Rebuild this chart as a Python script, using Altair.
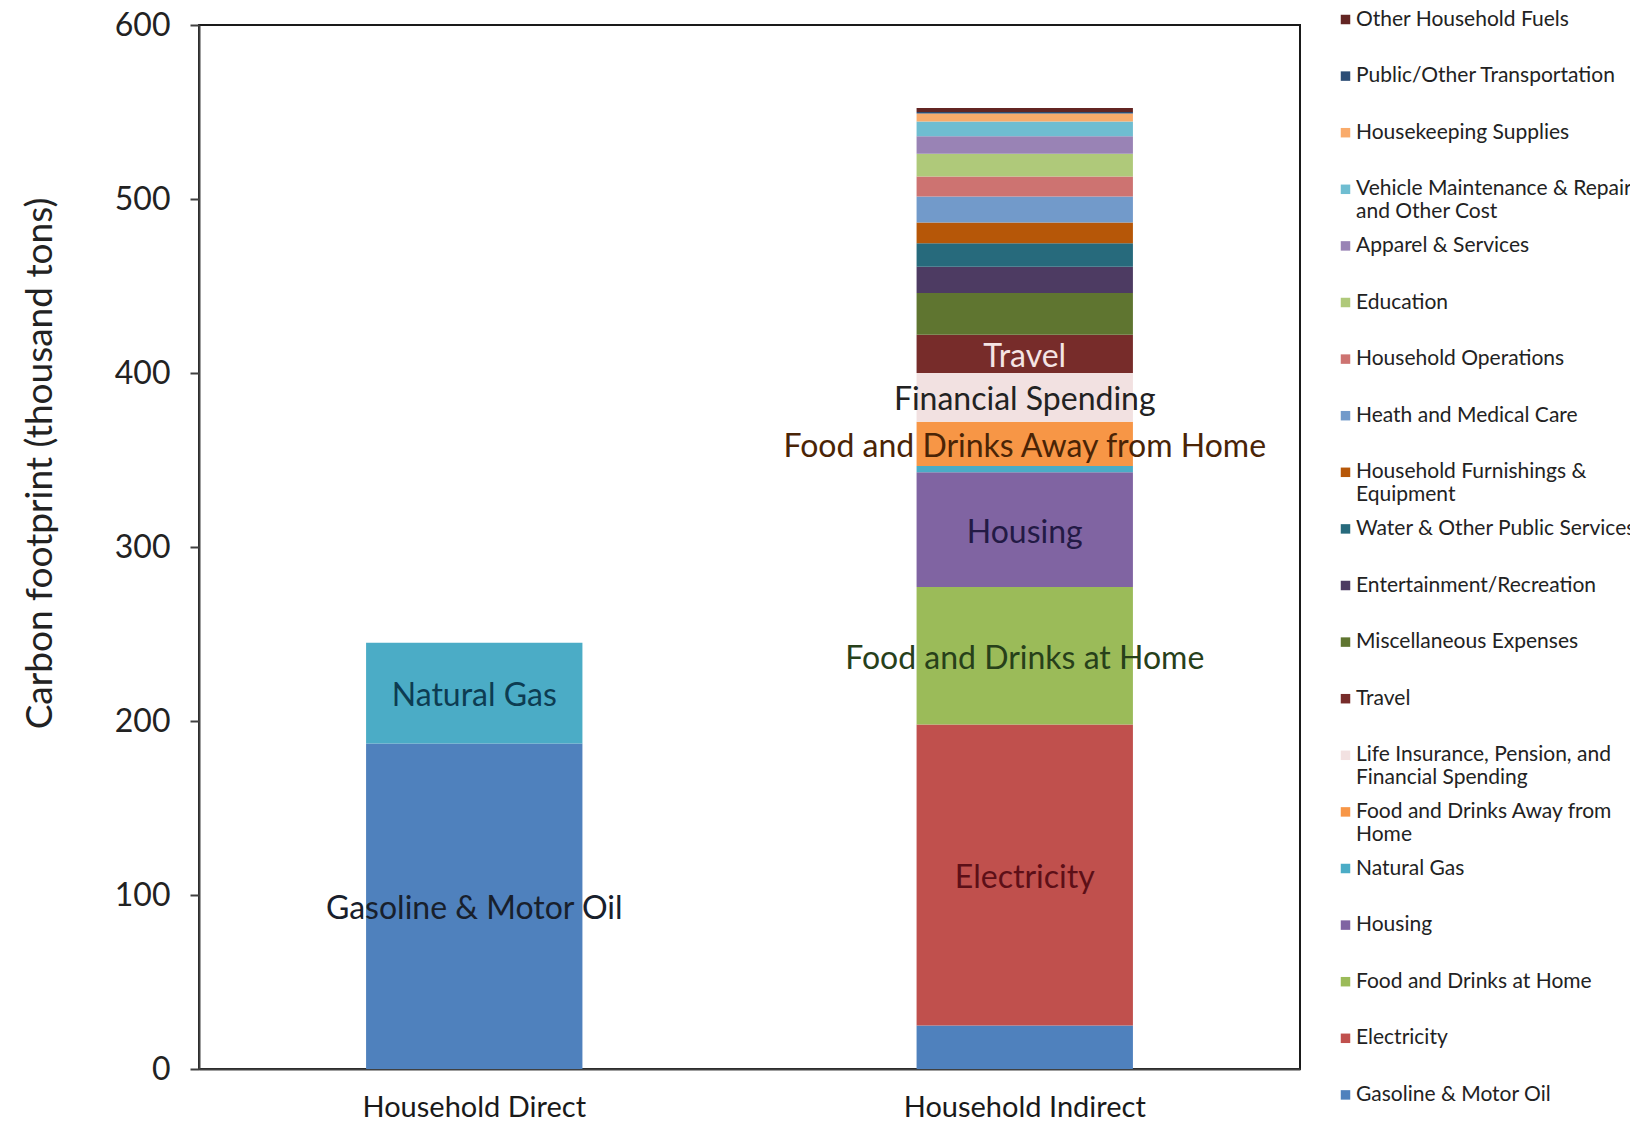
import altair as alt
import pandas as pd

# ---------------- data ----------------
bars = ["Household Direct", "Household Indirect"]

# stack order, bottom -> top
categories = [
    "Gasoline & Motor Oil",
    "Electricity",
    "Food and Drinks at Home",
    "Housing",
    "Natural Gas",
    "Food and Drinks Away from Home",
    "Life Insurance, Pension, and Financial Spending",
    "Travel",
    "Miscellaneous Expenses",
    "Entertainment/Recreation",
    "Water & Other Public Services",
    "Household Furnishings & Equipment",
    "Heath and Medical Care",
    "Household Operations",
    "Education",
    "Apparel & Services",
    "Vehicle Maintenance & Repair and Other Cost",
    "Housekeeping Supplies",
    "Public/Other Transportation",
    "Other Household Fuels",
]

direct_values = [187, 0, 0, 0, 58, 0, 0, 0, 0, 0, 0, 0, 0, 0, 0, 0, 0, 0, 0, 0]
indirect_values = [25, 173, 79, 66, 3.5, 25.5, 28, 22, 24, 15, 13.5, 12, 15, 11.5,
                   13, 10, 8.5, 4.7, 0.8, 2.3]

label_bars = ["Household Direct", "Household Direct", "Household Indirect",
              "Household Indirect", "Household Indirect", "Household Indirect",
              "Household Indirect", "Household Indirect"]
label_categories = ["Gasoline & Motor Oil", "Natural Gas", "Electricity",
                    "Food and Drinks at Home", "Housing",
                    "Food and Drinks Away from Home",
                    "Life Insurance, Pension, and Financial Spending", "Travel"]
label_texts = ["Gasoline & Motor Oil", "Natural Gas", "Electricity",
               "Food and Drinks at Home", "Housing",
               "Food and Drinks Away from Home", "Financial Spending", "Travel"]

y_ticks = [0, 100, 200, 300, 400, 500, 600]

# ---------------- styles ----------------
series_colors = {
    "Gasoline & Motor Oil": "#4F81BD",
    "Electricity": "#C0504D",
    "Food and Drinks at Home": "#9BBB59",
    "Housing": "#8064A2",
    "Natural Gas": "#4BACC6",
    "Food and Drinks Away from Home": "#F79646",
    "Life Insurance, Pension, and Financial Spending": "#F2E1E1",
    "Travel": "#772C2A",
    "Miscellaneous Expenses": "#5F7530",
    "Entertainment/Recreation": "#4D3B62",
    "Water & Other Public Services": "#276A7C",
    "Household Furnishings & Equipment": "#B65708",
    "Heath and Medical Care": "#729ACA",
    "Household Operations": "#CD7371",
    "Education": "#AFC97A",
    "Apparel & Services": "#9983B5",
    "Vehicle Maintenance & Repair and Other Cost": "#6FBDD1",
    "Housekeeping Supplies": "#F9AB6B",
    "Public/Other Transportation": "#2C4D75",
    "Other Household Fuels": "#632523",
}
label_text_colors = {
    "Gasoline & Motor Oil": "#18202c",
    "Natural Gas": "#0d3c52",
    "Electricity": "#5c0f17",
    "Food and Drinks at Home": "#27401a",
    "Housing": "#231a45",
    "Food and Drinks Away from Home": "#4a2406",
    "Financial Spending": "#222222",
    "Travel": "#F5E4E4",
}
two_line = {
    "Vehicle Maintenance & Repair and Other Cost": ["Vehicle Maintenance & Repair", "and Other Cost"],
    "Household Furnishings & Equipment": ["Household Furnishings &", "Equipment"],
    "Life Insurance, Pension, and Financial Spending": ["Life Insurance, Pension, and", "Financial Spending"],
    "Food and Drinks Away from Home": ["Food and Drinks Away from", "Home"],
}

# ---------------- tables ----------------
rows = []
for b, vals in zip(bars, [direct_values, indirect_values]):
    for i, (c, v) in enumerate(zip(categories, vals)):
        if v > 0:
            rows.append({"bar": b, "category": c, "value": v, "idx": i})
df = pd.DataFrame(rows)

lab_rows = []
for b, c, t in zip(label_bars, label_categories, label_texts):
    vals = direct_values if b == bars[0] else indirect_values
    k = categories.index(c)
    lo = sum(vals[:k])
    lab_rows.append({"bar": b, "text": t, "mid": lo + vals[k] / 2.0})
lab = pd.DataFrame(lab_rows)

legend_order = categories[::-1]
legend_colors = [series_colors[c] for c in legend_order]

expr = "datum.label"
for k, parts in two_line.items():
    expr = "datum.label == '%s' ? ['%s', '%s'] : (%s)" % (k, parts[0], parts[1], expr)

FONT = "Lato"

x_enc = alt.X(
    "bar:N",
    sort=bars,
    scale=alt.Scale(domain=bars, paddingInner=0.607, paddingOuter=0.3035),
    axis=alt.Axis(title=None, labelAngle=0, ticks=False, labelPadding=24,
                  labelFontSize=29, labelFont=FONT, labelColor="#1a1a1a",
                  labelLimit=1000, domainColor="#404040", domainWidth=2),
)

bars_layer = alt.Chart(df).mark_bar().encode(
    x=x_enc,
    y=alt.Y(
        "value:Q",
        stack="zero",
        scale=alt.Scale(domain=[0, 600], nice=False),
        axis=alt.Axis(values=y_ticks, grid=False, title="Carbon footprint (thousand tons)",
                      labelFontSize=32, labelFont=FONT, labelColor="#222222",
                      tickSize=9, tickWidth=2, tickColor="#404040",
                      domainColor="#404040", domainWidth=2, labelPadding=20,
                      titleFont=FONT, titleFontSize=37, titleFontWeight="normal",
                      titleColor="#222222", titleX=-159, titleY=438,
                      titleAngle=-90, titleAlign="center", titleBaseline="middle"),
    ),
    color=alt.Color(
        "category:N",
        scale=alt.Scale(domain=legend_order, range=legend_colors),
        legend=alt.Legend(
            title=None, orient="none", legendX=1136, legendY=-16,
            symbolType="square", symbolSize=90, symbolStrokeWidth=0,
            labelFont=FONT, labelFontSize=21, labelColor="#222222",
            labelLimit=1000, labelOffset=0, rowPadding=11.6, gridAlign="all",
            labelBaseline="middle", labelExpr=expr,
        ),
    ),
    order=alt.Order("idx:Q", sort="ascending"),
)

text_layer = alt.Chart(lab).mark_text(font=FONT, fontSize=32, baseline="middle",
                                      align="center", dy=3).encode(
    x=alt.X("bar:N", sort=bars),
    y=alt.Y("mid:Q", stack=None),
    text="text:N",
    color=alt.Color("text:N",
                    scale=alt.Scale(domain=list(label_text_colors.keys()),
                                    range=list(label_text_colors.values())),
                    legend=None),
)

chart = (
    alt.layer(bars_layer, text_layer)
    .resolve_scale(color="independent")
    .properties(
        width=1101,
        height=1044,
        padding={"left": 191, "top": 17, "right": 330, "bottom": 52},
        autosize=alt.AutoSizeParams(type="none"),
        background="white",
    )
    .configure_view(stroke="#1a1a1a", strokeWidth=2)
)

chart.save("out.html", embed_options={"renderer": "svg", "actions": False})
